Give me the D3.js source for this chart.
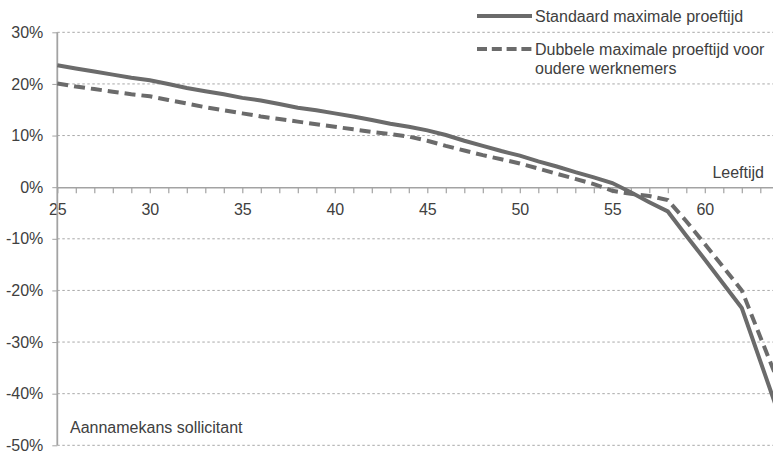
<!DOCTYPE html>
<html><head><meta charset="utf-8">
<script src="https://cdn.jsdelivr.net/npm/d3@7"></script>
<style>
body{margin:0;background:#fff}
svg text{font-family:"Liberation Sans",Arial,sans-serif;fill:#404040;}
</style>
</head><body><svg id="c" width="773" height="454"></svg>
<script>
const ages = [25,26,27,28,29,30,31,32,33,34,35,36,37,38,39,40,41,42,43,44,45,46,47,48,49,50,51,52,53,54,55,56,57,58,59,60,61,62,63,64];
const standaard = [23.6,23.0,22.4,21.8,21.2,20.7,20.0,19.2,18.6,18.0,17.3,16.8,16.1,15.4,14.9,14.3,13.7,13.0,12.3,11.7,11.0,10.1,9.0,8.0,7.0,6.1,5.0,4.0,2.9,1.9,0.8,-1.0,-2.9,-4.7,-9.4,-14.0,-18.7,-23.4,-33.7,-44.0];
const dubbele = [20.1,19.5,19.0,18.5,18.0,17.6,16.9,16.2,15.5,14.9,14.3,13.7,13.2,12.7,12.2,11.7,11.2,10.7,10.3,9.8,9.0,8.0,7.1,6.2,5.4,4.6,3.6,2.6,1.6,0.6,-0.7,-1.3,-1.7,-2.5,-6.6,-11.0,-15.5,-20.0,-29.0,-38.0];
const yTicks = [-50,-40,-30,-20,-10,0,10,20,30];
const xLabelTicks = [25,30,35,40,45,50,55,60];
const legendLabels = ["Standaard maximale proeftijd", ["Dubbele maximale proeftijd voor","oudere werknemers"]];
const xTitle = "Leeftijd", yTitle = "Aannamekans sollicitant";

const svg = d3.select("#c");
const W = 773;
const FS = 16;
const x0 = 57.3, step = 18.5;
const x = d3.scaleLinear().domain([25,64]).range([x0, x0 + 39*step]);
const y = d3.scaleLinear().domain([-50,30]).range([445.3, 32.3]);
const lineCol = "#6b6b6b", axisCol = "#a3a3a3", gridCol = "#a8a8a8";

// gridlines
svg.append("g").selectAll("line").data(yTicks.filter(d=>d!==0)).join("line")
  .attr("x1", x0).attr("x2", W).attr("y1", d=>y(d)).attr("y2", d=>y(d))
  .attr("stroke", gridCol).attr("stroke-width",1).attr("stroke-dasharray","2.5,2.5");

// y axis
const ya = svg.append("g").attr("transform",`translate(${x0},0)`)
  .call(d3.axisLeft(y).tickValues(yTicks).tickSize(5).tickSizeOuter(0).tickPadding(9).tickFormat(d=>d+"%"));
ya.selectAll("text").attr("font-size",FS);
ya.selectAll(".tick line").attr("stroke",axisCol);
ya.select(".domain").remove();

// x axis at 0
const xa = svg.append("g").attr("transform",`translate(0,${y(0)})`)
  .call(d3.axisBottom(x).tickValues(ages).tickSize(6).tickSizeOuter(0).tickPadding(10)
    .tickFormat(d=>xLabelTicks.includes(d)?String(d):""));
xa.selectAll("text").attr("font-size",FS);
xa.selectAll(".tick line").attr("stroke",axisCol).attr("stroke-width",1.2);
xa.select(".domain").attr("stroke",axisCol).attr("stroke-width",1.5);
svg.selectAll(".tick text").attr("fill","#404040");
svg.selectAll("g").attr("font-family",null);

// y axis line on top
svg.append("line").attr("x1",x0).attr("x2",x0).attr("y1",y(30)).attr("y2",y(-50))
  .attr("stroke",axisCol).attr("stroke-width",1.8);

// series
const line = d3.line().x((d,i)=>x(ages[i])).y(d=>y(d));
svg.append("path").datum(dubbele).attr("d",line).attr("fill","none")
  .attr("stroke",lineCol).attr("stroke-width",4).attr("stroke-dasharray","11,6");
svg.append("path").datum(standaard).attr("d",line).attr("fill","none")
  .attr("stroke",lineCol).attr("stroke-width",4);

// titles
svg.append("text").attr("x",764).attr("y",178).attr("text-anchor","end").attr("font-size",FS).text(xTitle);
svg.append("text").attr("x",70).attr("y",433).attr("font-size",FS).text(yTitle);

// legend
svg.append("line").attr("x1",477).attr("x2",532).attr("y1",16).attr("y2",16)
  .attr("stroke",lineCol).attr("stroke-width",4);
svg.append("text").attr("x",535).attr("y",22).attr("font-size",FS).text(legendLabels[0]);
svg.append("line").attr("x1",477).attr("x2",532).attr("y1",49).attr("y2",49)
  .attr("stroke",lineCol).attr("stroke-width",4).attr("stroke-dasharray","10,4.8");
const t2 = svg.append("text").attr("x",535).attr("y",55).attr("font-size",FS);
t2.append("tspan").attr("x",535).text(legendLabels[1][0]);
t2.append("tspan").attr("x",535).attr("dy",19).text(legendLabels[1][1]);
</script>
</body></html>
